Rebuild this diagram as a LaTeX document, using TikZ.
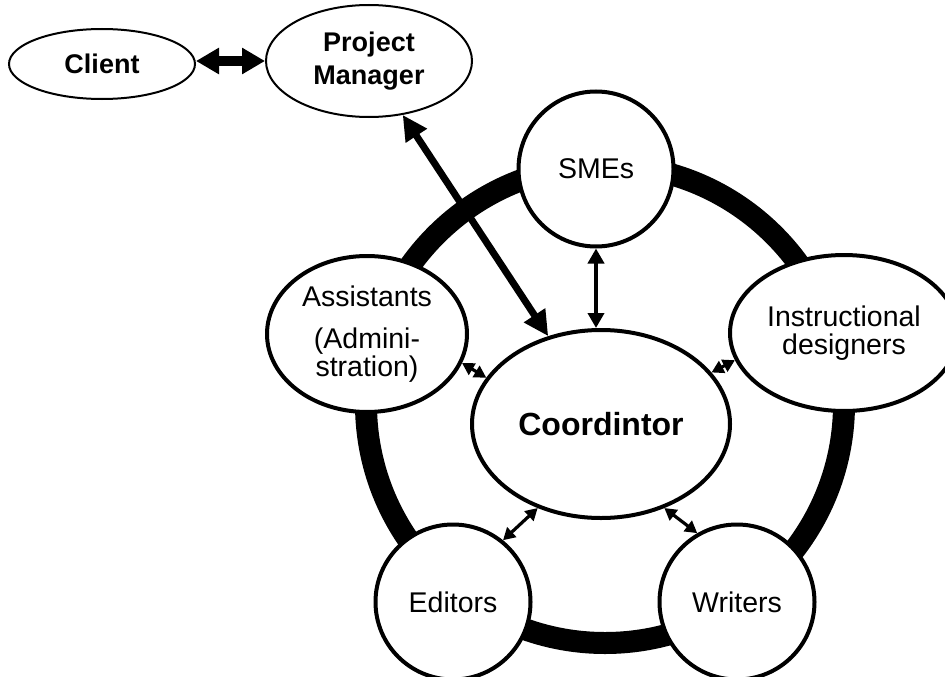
\documentclass[tikz,border=0pt]{standalone}
\usepackage{fontspec}
\setmainfont{Liberation Sans}
\usetikzlibrary{shapes.geometric,arrows.meta}
\begin{document}
\begin{tikzpicture}[x=1pt,y=-1pt,
  txt/.style={font=\fontsize{28.5}{28}\selectfont, align=center},
  member/.style={draw, line width=4pt, fill=white, inner sep=0pt, txt},
  roundmember/.style={member, circle, minimum size=155pt},
  ovalmember/.style={member, ellipse, minimum width=200pt, minimum height=156pt},
  topoval/.style={draw, line width=2pt, fill=white, ellipse, inner sep=0pt, align=center,
    font=\fontsize{27}{33}\selectfont\bfseries},
  ringline/.style={line width=22pt},
  bigarrow/.style={line width=10pt, {Triangle[length=23pt,width=25pt]}-{Triangle[length=23pt,width=25pt]}},
  pmarrow/.style={line width=7pt, {Triangle[length=25pt,width=24pt]}-{Triangle[length=25pt,width=24pt]}},
  midarrow/.style={line width=4.5pt, {Triangle[length=15pt,width=16pt]}-{Triangle[length=15pt,width=16pt]}},
  smallarrow/.style={line width=3.2pt, {Triangle[length=12pt,width=13pt]}-{Triangle[length=12pt,width=13pt]}}
]
\useasboundingbox (0,0) rectangle (945,677);

% ring
\coordinate (ringc) at (605,404);
\draw[ringline] (ringc) circle[radius=239pt];

% nodes
\node[topoval, minimum width=186pt, minimum height=70pt] (client) at (102,64) {Client};
\node[topoval, minimum width=206pt, minimum height=112pt] (pm) at (369,61) {Project\\Manager};

\node[roundmember] (smes) at (596,169) {SMEs};
\node[ovalmember, minimum width=228pt] (id) at (844,333) {Instructional\\designers};
\node[roundmember] (writers) at (737,602) {Writers};
\node[roundmember] (editors) at (453,602) {Editors};
\node[ovalmember] (assist) at (367,334) {Assistants\\[14pt](Admini-\\stration)};
\node[member, ellipse, minimum width=258pt, minimum height=188pt,
      font=\fontsize{32}{32}\selectfont\bfseries] (coord) at (601,424) {Coordintor};

% connectors
\draw[bigarrow] (client.east |- pm.west) -- (pm.west);
\draw[pmarrow] (pm.-58) -- (coord.121);
\draw[midarrow] (smes.south) -- (smes.south |- coord.north);
\draw[smallarrow] (coord.158.7) -- (assist.-17.5);
\draw[smallarrow] (coord.25) -- (id.194);
\draw[smallarrow] (coord.233.7) -- (editors.51);
\draw[smallarrow] (coord.307.4) -- (writers.120.5);
\end{tikzpicture}
\end{document}
